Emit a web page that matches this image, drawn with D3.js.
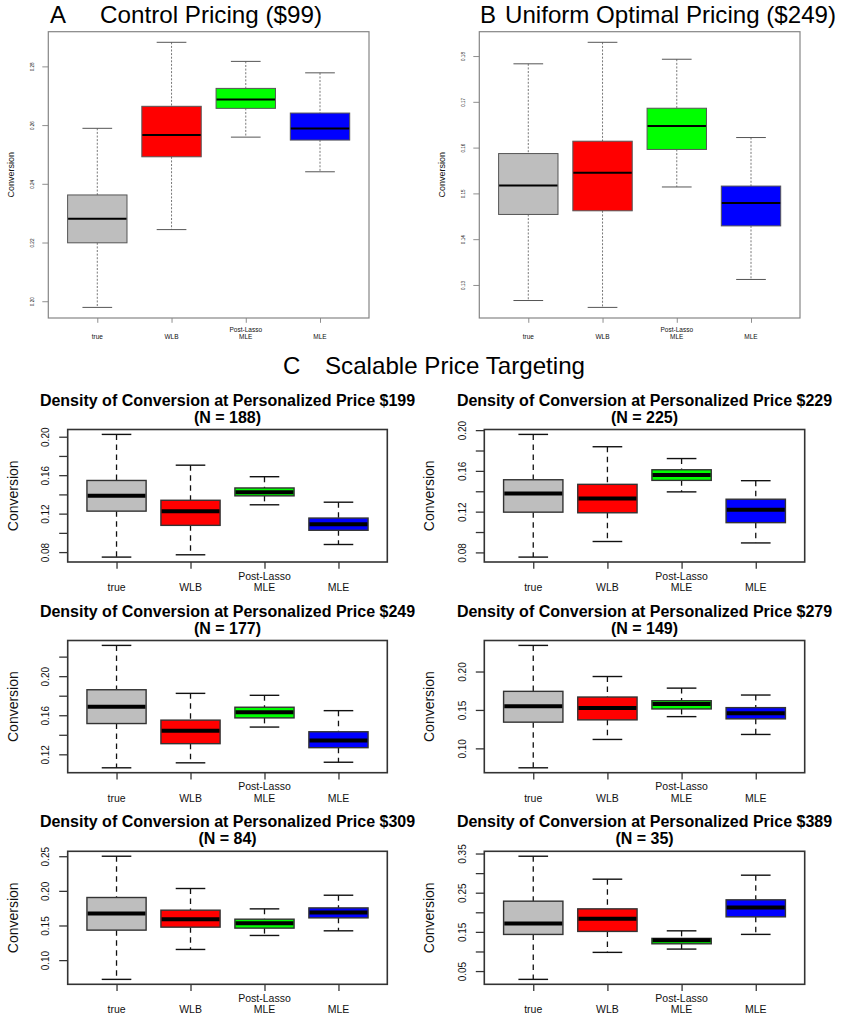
<!DOCTYPE html>
<html>
<head>
<meta charset="utf-8">
<script src="https://cdn.jsdelivr.net/npm/d3@7"></script>
<style>
  html, body { margin: 0; padding: 0; background: #fff; }
  svg { display: block; font-family: "Liberation Sans", Arial, Helvetica, sans-serif; }
</style>
</head>
<body>
<svg id="fig" width="841" height="1018"></svg>
<script>
// Estimator groups shown in every panel
const categories = ["true", "WLB", "Post-Lasso\nMLE", "MLE"];
const boxFills = ["#BEBEBE", "#FF0000", "#00FF00", "#0000FF"];

// Five-number summaries per group: [lower whisker, Q1, median, Q3, upper whisker]
const control99 = [
  [0.1979, 0.2199, 0.2281, 0.2362, 0.2589],
  [0.2244, 0.2492, 0.2566, 0.2664, 0.2882],
  [0.2559, 0.2657, 0.2687, 0.2725, 0.2817],
  [0.2441, 0.2549, 0.2588, 0.2641, 0.2778]
];
const uniform249 = [
  [0.1266, 0.1454, 0.1517, 0.1587, 0.1783],
  [0.1251, 0.1462, 0.1545, 0.1614, 0.1830],
  [0.1514, 0.1596, 0.1647, 0.1686, 0.1793],
  [0.1312, 0.1429, 0.1479, 0.1516, 0.1622]
];
const price199 = [
  [0.0748, 0.1226, 0.1385, 0.1545, 0.2024],
  [0.0772, 0.1078, 0.1226, 0.1339, 0.1704],
  [0.1292, 0.1385, 0.1422, 0.1467, 0.1584],
  [0.0879, 0.1027, 0.1089, 0.1154, 0.1319]
];
const price229 = [
  [0.0754, 0.1195, 0.1377, 0.1513, 0.1958],
  [0.0907, 0.1189, 0.1328, 0.1468, 0.1837],
  [0.1394, 0.1507, 0.1559, 0.1611, 0.1721],
  [0.0893, 0.1092, 0.1219, 0.1322, 0.1504]
];
const price249 = [
  [0.1062, 0.1515, 0.1688, 0.1861, 0.2315],
  [0.1113, 0.1309, 0.1441, 0.1550, 0.1824],
  [0.1479, 0.1573, 0.1631, 0.1682, 0.1804],
  [0.1119, 0.1268, 0.1342, 0.1431, 0.1647]
];
const price279 = [
  [0.0747, 0.1341, 0.1548, 0.1742, 0.2340],
  [0.1116, 0.1371, 0.1526, 0.1668, 0.1935],
  [0.1413, 0.1513, 0.1578, 0.1620, 0.1784],
  [0.1181, 0.1384, 0.1457, 0.1530, 0.1694]
];
const price309 = [
  [0.0722, 0.1433, 0.1673, 0.1904, 0.2500],
  [0.1154, 0.1476, 0.1591, 0.1721, 0.2034],
  [0.1356, 0.1462, 0.1534, 0.1591, 0.1740],
  [0.1423, 0.1610, 0.1688, 0.1754, 0.1937]
];
const price389 = [
  [0.0288, 0.1435, 0.1716, 0.2284, 0.3431],
  [0.0977, 0.1512, 0.1833, 0.2088, 0.2845],
  [0.1061, 0.1196, 0.1285, 0.1334, 0.1527],
  [0.1436, 0.1884, 0.2124, 0.2318, 0.2947]
];

// Y-axis tick positions and the subset that carries a label
const ticksControl = [0.20, 0.22, 0.24, 0.26, 0.28];
const labelsControl = [0.20, 0.22, 0.24, 0.26, 0.28];
const ticksUniform = [0.13, 0.14, 0.15, 0.16, 0.17, 0.18];
const labelsUniform = [0.13, 0.14, 0.15, 0.16, 0.17, 0.18];
const ticks199 = [0.08, 0.10, 0.12, 0.14, 0.16, 0.18, 0.20];
const labels199 = [0.08, 0.12, 0.16, 0.20];
const ticks229 = [0.08, 0.10, 0.12, 0.14, 0.16, 0.18, 0.20];
const labels229 = [0.08, 0.12, 0.16, 0.20];
const ticks249 = [0.12, 0.14, 0.16, 0.18, 0.20, 0.22];
const labels249 = [0.12, 0.16, 0.20];
const ticks279 = [0.10, 0.15, 0.20];
const labels279 = [0.10, 0.15, 0.20];
const ticks309 = [0.10, 0.15, 0.20, 0.25];
const labels309 = [0.10, 0.15, 0.20, 0.25];
const ticks389 = [0.05, 0.10, 0.15, 0.20, 0.25, 0.30, 0.35];
const labels389 = [0.05, 0.15, 0.25, 0.35];

// Small-panel titles
const personalizedPrices = ["$199", "$229", "$249", "$279", "$309", "$389"];
const sampleSizes = [188, 225, 177, 149, 84, 35];

const svg = d3.select("#fig");
const fmt = d3.format(".2f");

// Two drawing styles: the large top panels and the small grid panels
const bigStyle = {
  frame: "#858585", frameW: 1.2, tick: 6, tickCol: "#8a8a8a",
  tickFont: 4.6, tickOff: 14, ylabFont: 9, ylabOff: 34.5,
  catFont: 6.5, catBase: 21, catLine: 7.5,
  boxStroke: "#555", boxW: 1, medW: 2,
  whiskCol: "#555", whiskW: 0.8, dash: "2,1.6", capW: 1
};
const smallStyle = {
  frame: "#333", frameW: 1.6, tick: 8.5, tickCol: "#333",
  tickFont: 10, tickOff: 18.5, ylabFont: 14, ylabOff: 50,
  catFont: 10.5, catBase: 29, catLine: 11.5,
  boxStroke: "#333", boxW: 1.4, medW: 4,
  whiskCol: "#111", whiskW: 1.3, dash: "5.5,4.5", capW: 1.4
};

function drawPanel(frame, stats, ticks, labels, st) {
  const g = svg.append("g");
  const lo = d3.min(stats, d => d[0]);
  const hi = d3.max(stats, d => d[4]);
  const pad = (hi - lo) * 0.04;
  const y = d3.scaleLinear().domain([lo - pad, hi + pad]).range([frame.y1, frame.y0]);
  const x = d3.scaleLinear().domain([0.34, 4.66]).range([frame.x0, frame.x1]);
  const bw = (x(1.4) - x(1)); // half of the 0.8 box width
  const capHalf = bw / 2;

  // y axis ticks
  const isLabeled = v => labels.some(l => Math.abs(l - v) < 1e-9);
  const yAxis = d3.axisLeft(y).tickValues(ticks).tickSize(st.tick)
    .tickFormat(v => isLabeled(v) ? fmt(v) : "");
  const ya = g.append("g").attr("transform", `translate(${frame.x0},0)`).call(yAxis);
  ya.select(".domain").remove();
  ya.selectAll(".tick line").attr("stroke", st.tickCol).attr("stroke-width", st.frameW * 0.8);
  ya.selectAll(".tick text")
    .attr("x", null).attr("dy", null)
    .attr("text-anchor", "middle")
    .attr("transform", `translate(${-st.tickOff},0) rotate(-90)`)
    .attr("font-size", st.tickFont)
    .attr("font-family", "Liberation Sans, Arial, sans-serif")
    .attr("fill", "#111");

  // x axis ticks
  const xAxis = d3.axisBottom(x).tickValues([1, 2, 3, 4]).tickSize(st.tick * 0.8).tickFormat("");
  const xa = g.append("g").attr("transform", `translate(0,${frame.y1})`).call(xAxis);
  xa.select(".domain").remove();
  xa.selectAll(".tick line").attr("stroke", st.tickCol).attr("stroke-width", st.frameW * 0.8);

  // category labels (multi-line labels grow upward)
  categories.forEach((c, i) => {
    const lines = c.split("\n");
    lines.forEach((ln, j) => {
      g.append("text")
        .attr("x", x(i + 1))
        .attr("y", frame.y1 + st.catBase - (lines.length - 1 - j) * st.catLine)
        .attr("text-anchor", "middle")
        .attr("font-size", st.catFont)
        .attr("fill", "#111")
        .text(ln);
    });
  });

  // y axis title
  g.append("text")
    .attr("transform", `translate(${frame.x0 - st.ylabOff},${(frame.y0 + frame.y1) / 2}) rotate(-90)`)
    .attr("text-anchor", "middle")
    .attr("font-size", st.ylabFont)
    .attr("fill", "#111")
    .text("Conversion");

  // boxes
  const boxes = g.selectAll(".box").data(stats).join("g").attr("class", "box");
  // whiskers
  boxes.append("line")
    .attr("x1", (d, i) => x(i + 1)).attr("x2", (d, i) => x(i + 1))
    .attr("y1", d => y(d[4])).attr("y2", d => y(d[3]))
    .attr("stroke", st.whiskCol).attr("stroke-width", st.whiskW).attr("stroke-dasharray", st.dash);
  boxes.append("line")
    .attr("x1", (d, i) => x(i + 1)).attr("x2", (d, i) => x(i + 1))
    .attr("y1", d => y(d[1])).attr("y2", d => y(d[0]))
    .attr("stroke", st.whiskCol).attr("stroke-width", st.whiskW).attr("stroke-dasharray", st.dash);
  // staples
  [0, 4].forEach(k => {
    boxes.append("line")
      .attr("x1", (d, i) => x(i + 1) - capHalf).attr("x2", (d, i) => x(i + 1) + capHalf)
      .attr("y1", d => y(d[k])).attr("y2", d => y(d[k]))
      .attr("stroke", st.whiskCol).attr("stroke-width", st.capW);
  });
  // interquartile box
  boxes.append("rect")
    .attr("x", (d, i) => x(i + 1) - bw).attr("width", 2 * bw)
    .attr("y", d => y(d[3])).attr("height", d => y(d[1]) - y(d[3]))
    .attr("fill", (d, i) => boxFills[i])
    .attr("stroke", st.boxStroke).attr("stroke-width", st.boxW);
  // median
  boxes.append("line")
    .attr("x1", (d, i) => x(i + 1) - bw + st.boxW / 2).attr("x2", (d, i) => x(i + 1) + bw - st.boxW / 2)
    .attr("y1", d => y(d[2])).attr("y2", d => y(d[2]))
    .attr("stroke", "#000").attr("stroke-width", st.medW);

  // plot frame
  g.append("rect")
    .attr("x", frame.x0).attr("y", frame.y0)
    .attr("width", frame.x1 - frame.x0).attr("height", frame.y1 - frame.y0)
    .attr("fill", "none").attr("stroke", st.frame).attr("stroke-width", st.frameW);
}

// Top panels A and B
drawPanel({ x0: 48.3, x1: 369, y0: 31.7, y1: 318 }, control99, ticksControl, labelsControl, bigStyle);
drawPanel({ x0: 479.3, x1: 800, y0: 31.7, y1: 318 }, uniform249, ticksUniform, labelsUniform, bigStyle);

function headline(letterX, textX, baseY, letter, text, width) {
  svg.append("text").attr("x", letterX).attr("y", baseY)
    .attr("font-size", 24).attr("fill", "#000").text(letter);
  const t = svg.append("text").attr("x", textX).attr("y", baseY)
    .attr("font-size", 24).attr("fill", "#000").text(text);
  if (width) t.attr("textLength", width).attr("lengthAdjust", "spacingAndGlyphs");
}
headline(50, 100, 23, "A", "Control Pricing ($99)", 222);
headline(480, 505, 23, "B", "Uniform Optimal Pricing ($249)", 331);
headline(283, 325, 374, "C", "Scalable Price Targeting", 260);

// Grid of personalized-price panels
const gridStats = [price199, price229, price249, price279, price309, price389];
const gridTicks = [ticks199, ticks229, ticks249, ticks279, ticks309, ticks389];
const gridLabels = [labels199, labels229, labels249, labels279, labels309, labels389];
const colX = [[67.7, 387.3], [484.3, 804.7]];
const rowY = [[429.5, 562], [640.5, 772.7], [851.3, 984.3]];

gridStats.forEach((stats, k) => {
  const c = k % 2, r = Math.floor(k / 2);
  const frame = { x0: colX[c][0], x1: colX[c][1], y0: rowY[r][0], y1: rowY[r][1] };
  drawPanel(frame, stats, gridTicks[k], gridLabels[k], smallStyle);
  const cx = (frame.x0 + frame.x1) / 2;
  svg.append("text").attr("x", cx).attr("y", frame.y0 - 24)
    .attr("text-anchor", "middle").attr("font-size", 16).attr("font-weight", "bold")
    .text(`Density of Conversion at Personalized Price ${personalizedPrices[k]}`);
  svg.append("text").attr("x", cx).attr("y", frame.y0 - 7)
    .attr("text-anchor", "middle").attr("font-size", 16).attr("font-weight", "bold")
    .text(`(N = ${sampleSizes[k]})`);
});
</script>
</body>
</html>
